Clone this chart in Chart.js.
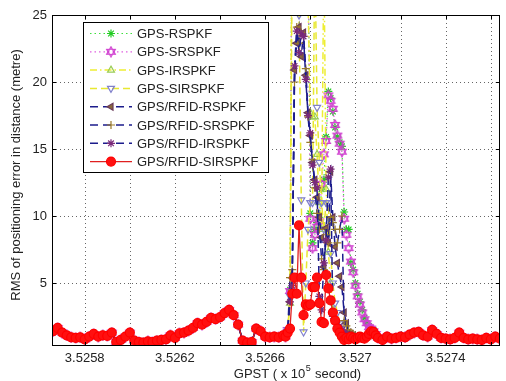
<!DOCTYPE html>
<html>
<head>
<meta charset="utf-8">
<script src="https://cdn.jsdelivr.net/npm/chart.js@4.4.0/dist/chart.umd.min.js"></script>
<style>
  html, body { margin: 0; padding: 0; background: #fff; }
  #wrap { width: 506px; height: 381px; }
</style>
</head>
<body>
<div id="wrap"><canvas id="chart" width="506" height="381"></canvas></div>
<script>
// GPST in seconds (axis shows value x 10^5)
const tBefore = [352566,352568,352570,352572,352574,352576,352578,352580,352582,352584,
  352586,352588,352590,352592,352594,352596,352598,352600,352602,352604,
  352606,352608,352610,352612,352614,352616,352618,352620,352622,352624,
  352626,352628,352630,352632,352634,352636,352638,352640,352642,352644,
  352646,352648,352650,352652,352654,352656,352658,352660,352662,352664,
  352666,352668];
const tSpike = [352669,352670,352671,352672,352673,352674,352675,352676,352677,352678,
  352679,352680,352681,352682,352683,352684,352685,352686,352687,352688,
  352689,352690,352691,352692,352693,352694,352695,352696,352697,352698,
  352699,352700,352701,352702,352703,352704,352705,352706,352707,352708,
  352709];
const tAfter = [352710,352712,352714,352716,352718,352720,352722,352724,352726,352728,
  352730,352732,352734,352736,352738,352740,352742,352744,352746,352748,
  352750,352752,352754,352756,352758,352760,352762,352764];

// quiet periods: all filters lie on top of each other
const quietBefore = [1.4,1.65,1.3,1.1,0.95,0.9,0.95,0.8,1.0,1.2,
  1.0,1.1,1.05,1.3,0.6,0.75,1.0,1.3,0.7,0.6,
  0.55,0.65,0.6,0.7,0.75,0.8,1.1,0.9,1.25,1.3,
  1.45,1.65,2.0,1.9,2.1,2.4,2.3,2.45,2.75,3.0,
  2.6,1.9,0.7,0.55,0.6,1.6,1.4,1.0,0.95,1.0,
  0.95,1.1];
const quietAfter = [0.9,0.75,1.0,0.85,0.9,1.0,0.95,1.15,1.3,1.35,
  1.1,1.0,1.5,1.2,0.9,0.85,0.8,0.9,1.3,0.9,
  0.8,0.85,0.8,0.75,0.9,0.8,1.0,0.85];

// outage period, one value per second (352669 .. 352709)
const gpsRSpike = [1.0,1.4,4.5,38,45,42,40,36,33,30,
  32,10.2,8.0,9.0,9.5,9.9,12.0,12.7,15.9,19.3,
  18.8,17.8,16.6,15.9,15.5,15.2,10.3,9.0,9.0,6.5,
  6.0,5.0,4.2,3.6,3.0,2.4,2.0,1.8,1.6,1.5,1.2];
const gpsSRSpike = [1.0,1.5,4.4,36,44,43,39,37,34,31,
  30,9.8,7.6,8.6,9.2,9.6,12.4,14.6,15.6,19.0,
  18.6,18.0,16.8,16.0,15.4,14.8,9.8,8.6,7.6,6.6,
  5.8,4.8,4.0,3.4,2.8,2.3,2.0,1.7,1.6,1.4,1.2];
const gpsIRSpike = [1.0,1.6,3.5,38,45,40,36,34,30,30,
  26,17.7,17.4,17.4,14.6,11.0,9.0,30,12.0,7.3,
  5.0,3.0,2.2,1.8,1.5,1.3,1.1,1.0,1.0,0.95,
  0.9,0.85,0.9,1.0,0.9,0.85,1.0,1.2,1.3,1.3,1.1];
const gpsSIRSpike = [1.0,1.5,4.0,30,40,36,25.0,11.2,1.35,5.0,
  9.0,11.0,11.0,30,18.1,14.0,11.0,9.0,11.0,11.0,
  7.2,5.0,3.5,2.8,2.0,1.6,1.3,1.1,1.0,0.9,
  0.9,0.85,0.9,1.0,0.9,0.85,1.0,1.2,1.3,1.3,1.1];
const rfidRSpike = [1.0,1.5,3.6,5.4,20.9,22.9,24.1,21.9,23.7,20.5,
  17.7,16.0,14.0,12.7,11.4,9.9,8.4,6.2,9.1,8.0,
  13.3,9.9,7.7,6.5,5.5,4.7,2.8,2.0,1.3,1.2,
  1.1,1.0,1.0,1.0,0.95,0.9,1.0,1.1,1.3,1.3,1.1];
const rfidSRSpike = [1.0,1.4,5.4,6.0,20.0,24.1,22.9,23.7,23.4,21.0,
  17.4,15.5,14.2,12.1,10.2,9.0,6.8,6.0,8.6,8.0,
  9.9,9.5,9.0,8.0,9.0,10.0,2.2,1.8,1.5,1.3,
  1.2,1.1,1.0,0.95,0.9,0.9,1.0,1.1,1.3,1.2,1.1];
const rfidIRSpike = [1.0,1.5,3.6,4.8,21.2,23.8,22.2,23.6,23.4,20.2,
  17.5,16.2,13.8,12.5,12.1,4.0,3.0,6.5,8.2,12.9,
  13.5,2.5,2.2,1.9,1.7,1.5,1.3,1.2,1.1,1.0,
  1.0,1.0,1.0,1.0,0.9,0.9,1.0,1.1,1.25,1.3,1.1];
const rfidSIRSpike = [1.0,1.3,1.6,4.2,5.4,4.2,9.3,5.4,2.6,3.4,
  3.3,3.4,4.7,4.7,5.4,3.5,2.1,2.0,5.6,4.6,
  3.7,2.8,2.2,1.6,1.3,1.0,0.75,0.9,0.8,1.0,
  0.9,0.8,0.9,1.0,0.9,0.85,1.0,1.2,1.4,1.35,1.1];

const seriesNames = ['GPS-RSPKF','GPS-SRSPKF','GPS-IRSPKF','GPS-SIRSPKF',
  'GPS/RFID-RSPKF','GPS/RFID-SRSPKF','GPS/RFID-IRSPKF','GPS/RFID-SIRSPKF'];
const xTicks = [352580,352600,352620,352640,352660,352680,352700,352720,352740,352760];
const xLabelled = [352580,352620,352660,352700,352740];
const yTicks = [5,10,15,20,25];

const gpst = tBefore.concat(tSpike, tAfter);
const fullSeries = spike => quietBefore.concat(spike, quietAfter);
const toPoints = vals => gpst.map((t, i) => ({ x: t, y: vals[i] }));

function hexagram(color) {
  const c = document.createElement('canvas');
  c.width = 12; c.height = 12;
  const g = c.getContext('2d');
  g.strokeStyle = color; g.lineWidth = 1.2;
  [-Math.PI / 2, Math.PI / 2].forEach(a0 => {
    g.beginPath();
    for (let k = 0; k < 3; k++) {
      const a = a0 + k * 2 * Math.PI / 3;
      g.lineTo(6 + 5 * Math.cos(a), 6 + 5 * Math.sin(a));
    }
    g.closePath(); g.stroke();
  });
  return c;
}

const styles = [
  { line: '#3ee03e', dash: [1.5, 3], width: 1.2, mark: 'star', rot: 0, border: '#22cc22', fill: '#22cc22', r: 4 },
  { line: '#e060e0', dash: [1.5, 3], width: 1.2, mark: hexagram('#d040d0'), rot: 0, border: '#d040d0', fill: 'rgba(0,0,0,0)', r: 5 },
  { line: '#eeee33', dash: [7, 3, 1.5, 3], width: 1.5, mark: 'triangle', rot: 0, border: '#99cc55', fill: 'rgba(0,0,0,0)', r: 4 },
  { line: '#e8e830', dash: [7, 4], width: 1.5, mark: 'triangle', rot: 180, border: '#8080cc', fill: 'rgba(0,0,0,0)', r: 4 },
  { line: '#1c1c8c', dash: [8, 5], width: 1.5, mark: 'triangle', rot: -90, border: '#6a3a5a', fill: '#8a6a3a', r: 4 },
  { line: '#1c1c8c', dash: [8, 5], width: 1.5, mark: 'cross', rot: 0, border: '#9a7a2a', fill: '#9a7a2a', r: 4 },
  { line: '#1c1c8c', dash: [8, 5], width: 1.5, mark: 'star', rot: 0, border: '#7a2a7a', fill: '#7a2a7a', r: 4 },
  { line: '#e02020', dash: [], width: 1.3, mark: 'circle', rot: 0, border: '#ff0000', fill: '#ff1010', r: 4.5 }
];
const spikes = [gpsRSpike, gpsSRSpike, gpsIRSpike, gpsSIRSpike, rfidRSpike, rfidSRSpike, rfidIRSpike, rfidSIRSpike];

const datasets = seriesNames.map((name, i) => ({
  label: name,
  data: toPoints(fullSeries(spikes[i])),
  borderColor: styles[i].line,
  borderWidth: styles[i].width,
  borderDash: styles[i].dash,
  pointStyle: styles[i].mark,
  rotation: styles[i].rot,
  pointRadius: styles[i].r,
  pointBorderColor: styles[i].border,
  pointBackgroundColor: styles[i].fill,
  pointBorderWidth: 1.2,
  tension: 0,
  order: 7 - i
}));

const FONT = '"Liberation Sans", Arial, sans-serif';

const matlabAxes = {
  id: 'matlabAxes',
  beforeDatasetsDraw(chart) {
    const { ctx, chartArea: a, scales: { x, y } } = chart;
    ctx.save();
    ctx.strokeStyle = 'rgba(0,0,0,0.6)';
    ctx.lineWidth = 1;
    ctx.setLineDash([1, 3]);
    xTicks.forEach(v => {
      const px = Math.round(x.getPixelForValue(v)) + 0.5;
      ctx.beginPath(); ctx.moveTo(px, a.top); ctx.lineTo(px, a.bottom); ctx.stroke();
    });
    yTicks.forEach(v => {
      const py = Math.round(y.getPixelForValue(v)) + 0.5;
      ctx.beginPath(); ctx.moveTo(a.left, py); ctx.lineTo(a.right, py); ctx.stroke();
    });
    ctx.restore();
  },
  afterDatasetsDraw(chart) {
    const { ctx, chartArea: a, scales: { x, y } } = chart;
    ctx.save();
    ctx.strokeStyle = '#000';
    ctx.lineWidth = 1;
    ctx.setLineDash([]);
    ctx.strokeRect(Math.round(a.left) + 0.5, Math.round(a.top) + 0.5,
      Math.round(a.right - a.left) - 1, Math.round(a.bottom - a.top) - 1);
    const tl = 4;
    ctx.beginPath();
    xTicks.forEach(v => {
      const px = Math.round(x.getPixelForValue(v)) + 0.5;
      ctx.moveTo(px, a.bottom); ctx.lineTo(px, a.bottom - tl);
      ctx.moveTo(px, a.top); ctx.lineTo(px, a.top + tl);
    });
    yTicks.forEach(v => {
      const py = Math.round(y.getPixelForValue(v)) + 0.5;
      ctx.moveTo(a.left, py); ctx.lineTo(a.left + tl, py);
      ctx.moveTo(a.right, py); ctx.lineTo(a.right - tl, py);
    });
    ctx.stroke();

    // legend
    const bx = 83.5, by = 22.5, bw = 185, bh = 150;
    ctx.fillStyle = '#fff';
    ctx.fillRect(bx, by, bw, bh);
    ctx.strokeStyle = '#000';
    ctx.strokeRect(bx, by, bw, bh);
    ctx.font = '13px ' + FONT;
    ctx.textBaseline = 'middle';
    ctx.textAlign = 'left';
    seriesNames.forEach((name, i) => {
      const s = styles[i];
      const ry = 33.5 + i * 18.3;
      ctx.save();
      ctx.strokeStyle = s.line;
      ctx.lineWidth = s.width;
      ctx.setLineDash(s.dash);
      ctx.beginPath(); ctx.moveTo(90, ry); ctx.lineTo(132, ry); ctx.stroke();
      ctx.setLineDash([]);
      ctx.strokeStyle = s.border;
      ctx.fillStyle = s.fill;
      ctx.lineWidth = 1.2;
      Chart.helpers.drawPoint(ctx, { pointStyle: s.mark, rotation: s.rot, radius: s.r, borderWidth: 1.2 }, 111, ry);
      ctx.restore();
      ctx.fillStyle = '#222';
      ctx.fillText(name, 137, ry + 1);
    });

    // axis titles
    ctx.fillStyle = '#222';
    ctx.font = '13px ' + FONT;
    const p1 = 'GPST ( x 10', p2 = '5', p3 = ' second)';
    const w1 = ctx.measureText(p1).width, w3 = ctx.measureText(p3).width;
    ctx.font = '9px ' + FONT;
    const w2 = ctx.measureText(p2).width;
    const sx = 297 - (w1 + w2 + w3) / 2;
    ctx.textBaseline = 'alphabetic';
    ctx.font = '13px ' + FONT;
    ctx.fillText(p1, sx, 378);
    ctx.font = '9px ' + FONT;
    ctx.fillText(p2, sx + w1 + 0.5, 371);
    ctx.font = '13px ' + FONT;
    ctx.fillText(p3, sx + w1 + w2 + 1, 378);

    ctx.translate(16, 175);
    ctx.rotate(-Math.PI / 2);
    ctx.textAlign = 'center';
    ctx.textBaseline = 'middle';
    ctx.fillText('RMS of positioning error in distance (metre)', 0, 0);
    ctx.restore();
  }
};

new Chart(document.getElementById('chart'), {
  type: 'line',
  data: { datasets },
  options: {
    responsive: false,
    devicePixelRatio: 1,
    animation: false,
    layout: { padding: { top: 15, right: 1, left: 0, bottom: 0 } },
    plugins: { legend: { display: false }, tooltip: { enabled: false } },
    scales: {
      x: {
        type: 'linear',
        min: 352565.5,
        max: 352764,
        afterBuildTicks: s => { s.ticks = xTicks.map(v => ({ value: v })); },
        afterFit: s => { s.height = 35; },
        grid: { display: false, drawTicks: false },
        border: { display: false },
        ticks: {
          padding: 5,
          autoSkip: false,
          maxRotation: 0,
          color: '#222',
          font: { family: FONT, size: 13 },
          callback: v => xLabelled.includes(v) ? String(parseFloat((v / 1e5).toFixed(4))) : ''
        }
      },
      y: {
        min: 0.3,
        max: 25,
        afterBuildTicks: s => { s.ticks = yTicks.map(v => ({ value: v })); },
        afterFit: s => { s.width = 52; },
        grid: { display: false, drawTicks: false },
        border: { display: false },
        ticks: {
          padding: 5,
          color: '#222',
          font: { family: FONT, size: 13 },
          callback: v => String(v)
        }
      }
    }
  },
  plugins: [matlabAxes]
});
</script>
</body>
</html>
